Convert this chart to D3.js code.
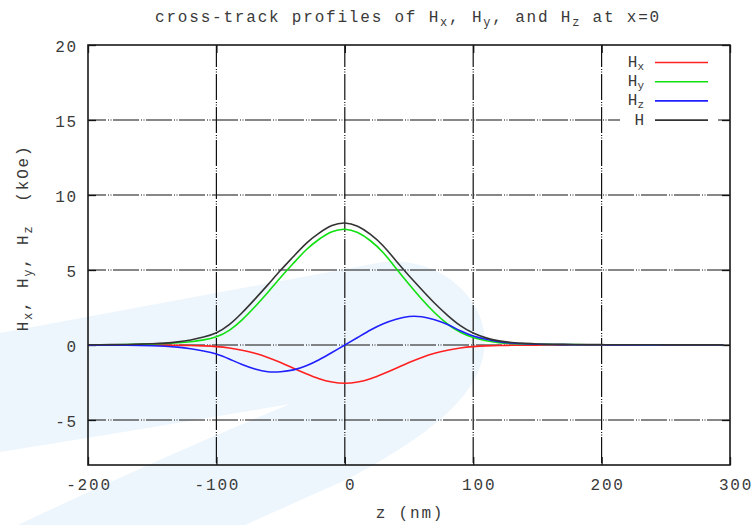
<!DOCTYPE html>
<html>
<head>
<meta charset="utf-8">
<script src="https://cdn.jsdelivr.net/npm/d3@7"></script>
<style>
  body { margin: 0; background: #fff; }
  text { font-family: "Liberation Mono", "DejaVu Sans Mono", monospace; fill: #3a3a3a; }
</style>
</head>
<body>
<svg id="chart" width="756" height="525"></svg>
<script>
/* data */
var zValues = [-200, -190, -180, -170, -160, -150, -140, -130, -120, -110,
               -100, -90, -80, -70, -60, -50, -40, -30, -20, -10,
               0, 10, 20, 30, 40, 50, 60, 70, 80, 90,
               100, 110, 120, 130, 140, 150, 160, 170, 180, 190,
               200, 210, 220, 230, 240, 250, 260, 270, 280, 290, 295];

var hxValues = [0, 0, 0, 0, -0.005, -0.01, -0.01, -0.02, -0.03, -0.06,
                -0.11, -0.2, -0.35, -0.55, -0.83, -1.17, -1.55, -1.92, -2.25, -2.47,
                -2.55, -2.47, -2.25, -1.92, -1.55, -1.17, -0.83, -0.55, -0.35, -0.2,
                -0.11, -0.06, -0.03, -0.02, -0.01, -0.01, 0, 0, 0, 0,
                0, 0, 0, 0, 0, 0, 0, 0, 0, 0, 0];

var hyValues = [0.01, 0.015, 0.02, 0.03, 0.05, 0.07, 0.1, 0.15, 0.22, 0.34,
                0.55, 0.98, 1.68, 2.55, 3.5, 4.5, 5.45, 6.35, 7.05, 7.55,
                7.72, 7.5, 6.95, 6.15, 5.1, 4.05, 3.05, 2.15, 1.4, 0.85,
                0.5, 0.28, 0.16, 0.1, 0.07, 0.05, 0.04, 0.03, 0.025, 0.02,
                0.018, 0.015, 0.013, 0.011, 0.01, 0.009, 0.008, 0.007, 0.006, 0.005, 0.005];

var hzValues = [-0.01, -0.01, -0.015, -0.02, -0.03, -0.05, -0.08, -0.14, -0.25, -0.4,
                -0.6, -0.93, -1.3, -1.6, -1.78, -1.78, -1.66, -1.38, -0.98, -0.5,
                0, 0.5, 1.0, 1.42, 1.72, 1.9, 1.88, 1.68, 1.36, 0.95,
                0.6, 0.38, 0.22, 0.13, 0.08, 0.05, 0.035, 0.025, 0.02, 0.015,
                0.012, 0.01, 0.008, 0.007, 0.006, 0.006, 0.005, 0.005, 0.004, 0.004, 0.004];

var hValues = [0.014, 0.018, 0.025, 0.036, 0.059, 0.087, 0.128, 0.206, 0.334, 0.528,
               0.82, 1.36, 2.15, 3.06, 4.01, 4.98, 5.90, 6.78, 7.46, 7.96,
               8.13, 7.91, 7.37, 6.60, 5.60, 4.62, 3.68, 2.78, 1.98, 1.29,
               0.8, 0.476, 0.274, 0.165, 0.107, 0.071, 0.053, 0.039, 0.032, 0.025,
               0.022, 0.018, 0.015, 0.013, 0.012, 0.011, 0.009, 0.009, 0.007, 0.006, 0.006];

var xTicks = [-200, -100, 0, 100, 200, 300];
var yTicks = [-5, 0, 5, 10, 15, 20];

var series = [
    {name: 'H', sub: 'x', values: hxValues, color: '#ff2020'},
    {name: 'H', sub: 'y', values: hyValues, color: '#10e010'},
    {name: 'H', sub: 'z', values: hzValues, color: '#2020ff'},
    {name: 'H', sub: '', values: hValues, color: '#333333'}
];

const plotLeft = 88, plotRight = 730, plotTop = 45, plotBottom = 465;
const svg = d3.select('#chart');

/* faint watermark behind the plot */
svg.append('path')
    .attr('d', 'M0,333 L383,262 C445,256 492,305 484,352 C476,402 420,440 350,478 L245,525 L0,525 Z')
    .attr('fill', '#eef6fd');
svg.append('path')
    .attr('d', 'M0,452 Q140,430 290,404 Q150,462 18,525 L0,525 Z')
    .attr('fill', '#ffffff');

const xScale = d3.scaleLinear().domain([-200, 300]).range([plotLeft, plotRight]);
const yScale = d3.scaleLinear().domain([-8, 20]).range([plotBottom, plotTop]);

/* grid */
const gridDash = '26,2,1,1.5,1,1.5';
svg.append('g')
    .selectAll('line')
    .data(xTicks.slice(1, -1))
    .enter()
    .append('line')
    .attr('x1', d => xScale(d)).attr('x2', d => xScale(d))
    .attr('y1', plotTop).attr('y2', plotBottom)
    .attr('stroke', '#111').attr('stroke-width', 1.2)
    .attr('stroke-dasharray', gridDash)
    .attr('stroke-dashoffset', 4);

svg.append('g')
    .selectAll('line')
    .data(yTicks.slice(0, -1))
    .enter()
    .append('line')
    .attr('x1', plotLeft).attr('x2', plotRight)
    .attr('y1', d => yScale(d)).attr('y2', d => yScale(d))
    .attr('stroke', '#111').attr('stroke-width', 1.2)
    .attr('stroke-dasharray', gridDash)
    .attr('stroke-dashoffset', 8);

/* axes with inward ticks */
svg.append('g')
    .attr('transform', `translate(0,${plotBottom})`)
    .call(d3.axisTop(xScale).tickValues(xTicks).tickSize(8).tickFormat(''))
    .call(g => g.select('.domain').remove());
svg.append('g')
    .attr('transform', `translate(0,${plotTop})`)
    .call(d3.axisBottom(xScale).tickValues(xTicks).tickSize(8).tickFormat(''))
    .call(g => g.select('.domain').remove());
svg.append('g')
    .attr('transform', `translate(${plotLeft},0)`)
    .call(d3.axisRight(yScale).tickValues(yTicks).tickSize(8).tickFormat(''))
    .call(g => g.select('.domain').remove());
svg.append('g')
    .attr('transform', `translate(${plotRight},0)`)
    .call(d3.axisLeft(yScale).tickValues(yTicks).tickSize(8).tickFormat(''))
    .call(g => g.select('.domain').remove());
svg.selectAll('.tick line').attr('stroke', '#111').attr('stroke-width', 1.3);

/* tick labels */
svg.append('g')
    .selectAll('text')
    .data(xTicks)
    .enter()
    .append('text')
    .attr('x', d => xScale(d) + (d >= 0 ? 6 : 1))
    .attr('y', 490)
    .attr('text-anchor', 'middle')
    .style('font-size', '16px')
    .style('letter-spacing', '1.8px')
    .text(d => d);

svg.append('g')
    .selectAll('text')
    .data(yTicks)
    .enter()
    .append('text')
    .attr('x', 78)
    .attr('y', d => yScale(d) + 6.5)
    .attr('text-anchor', 'end')
    .style('font-size', '16px')
    .style('letter-spacing', '1.8px')
    .text(d => d);

/* legend background */
svg.append('rect')
    .attr('x', 620).attr('y', 50)
    .attr('width', 98).attr('height', 80)
    .attr('fill', '#fff');

/* curves */
const line = d3.line()
    .x((d, i) => xScale(zValues[i]))
    .y(d => yScale(d))
    .curve(d3.curveNatural);

series.forEach(s => {
    svg.append('path')
        .datum(s.values)
        .attr('d', line)
        .attr('fill', 'none')
        .attr('stroke', s.color)
        .attr('stroke-width', 1.6);
});

/* frame */
svg.append('rect')
    .attr('x', plotLeft).attr('y', plotTop)
    .attr('width', plotRight - plotLeft).attr('height', plotBottom - plotTop)
    .attr('fill', 'none')
    .attr('stroke', '#1a1a1a')
    .attr('stroke-width', 1.6);

/* legend */
const legend = svg.append('g');
series.forEach((s, i) => {
    const ly = 62.5 + i * 19.2;
    legend.append('line')
        .attr('x1', 655).attr('x2', 708)
        .attr('y1', ly).attr('y2', ly)
        .attr('stroke', s.color)
        .attr('stroke-width', 1.6);
    const t = legend.append('text')
        .attr('x', 644)
        .attr('y', ly + 4.5)
        .attr('text-anchor', 'end')
        .style('font-size', '16px');
    t.append('tspan').text(s.name);
    if (s.sub) {
        t.append('tspan').attr('dy', 3).style('font-size', '11px').text(s.sub);
    }
});

/* helper for text with subscripts */
function subText(sel, parts, bigSize, smallSize) {
    let lowered = false;
    parts.forEach(p => {
        if (p.sub) {
            sel.append('tspan').attr('dy', 4).style('font-size', smallSize).text(p.sub);
            lowered = true;
        } else {
            sel.append('tspan').attr('dy', lowered ? -4 : 0).style('font-size', bigSize).text(p.t);
            lowered = false;
        }
    });
}

/* title */
const title = svg.append('text')
    .attr('x', 408)
    .attr('y', 22)
    .attr('text-anchor', 'middle')
    .style('letter-spacing', '1.8px')
    .attr('xml:space', 'preserve');
subText(title, [
    {t: 'cross-track profiles of H'}, {sub: 'x'},
    {t: ', H'}, {sub: 'y'},
    {t: ', and H'}, {sub: 'z'},
    {t: ' at x=0'}
], '16px', '12px');

/* y-axis label */
const yLabel = svg.append('text')
    .attr('transform', 'translate(28,238) rotate(-90)')
    .attr('text-anchor', 'middle')
    .style('letter-spacing', '1.8px')
    .attr('xml:space', 'preserve');
subText(yLabel, [
    {t: 'H'}, {sub: 'x'}, {t: ', H'}, {sub: 'y'}, {t: ', H'}, {sub: 'z'}, {t: '  (kOe)'}
], '16px', '12px');

/* x-axis label */
svg.append('text')
    .attr('x', 410)
    .attr('y', 518)
    .attr('text-anchor', 'middle')
    .style('font-size', '16px')
    .style('letter-spacing', '1.8px')
    .text('z (nm)');
</script>
</body>
</html>
